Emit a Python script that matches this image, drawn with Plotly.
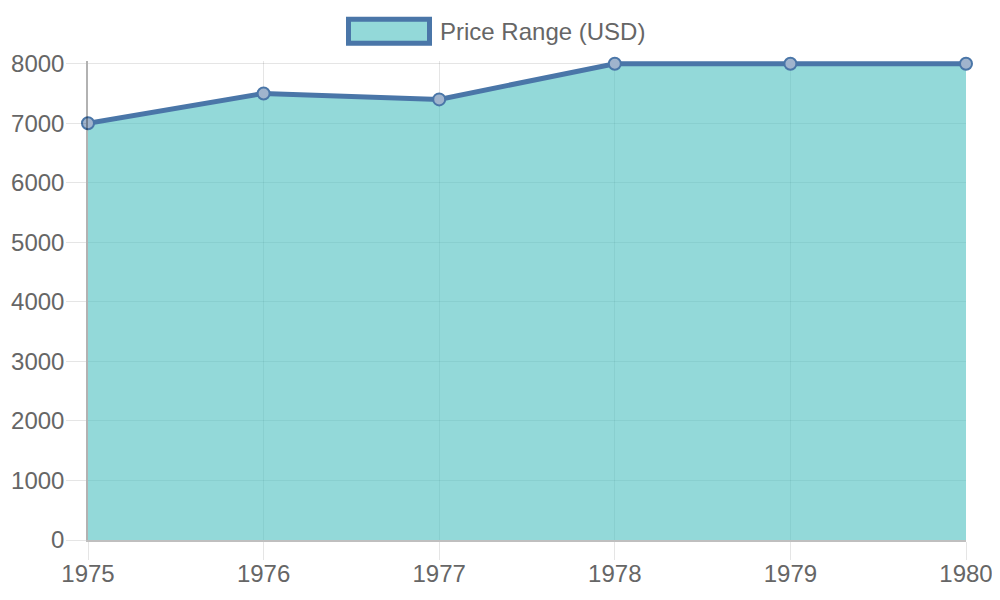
import plotly.graph_objects as go

years = [1975, 1976, 1977, 1978, 1979, 1980]
prices = [7000, 7500, 7400, 8000, 8000, 8000]
series_name = "Price Range (USD)"

LINE = "#4a76a8"
FILL = "rgba(75,192,192,0.6)"
TXT = "#666666"
FONT = "Liberation Sans, Arial, sans-serif"
FS = 24

# page body has an 8px margin; compensate so the plot lands where intended
OFF = 8
PL, PR, PT, PB = 88, 966, 64, 540   # target plot box in screen px
YTOP = 8045                          # small headroom so the top line is not clipped
ppu = (PB - PT) / 8000.0
top_px = PB - YTOP * ppu

fig = go.Figure()
fig.add_trace(go.Scatter(
    x=years, y=prices, name=series_name, mode="lines+markers",
    fill="tozeroy", fillcolor=FILL,
    line=dict(color=LINE, width=5),
    marker=dict(size=12, color="rgba(160,180,205,1)", line=dict(color=LINE, width=2)),
    cliponaxis=False, showlegend=False,
))

def px_x(p):
    return (p - PL) / (PR - PL)

def px_y(p):
    return (PB - p) / (PB - top_px)

fig.update_layout(
    width=1000, height=600,
    margin=dict(l=PL - OFF, r=1000 - (PR - OFF), t=top_px - OFF, b=600 - (PB - OFF)),
    paper_bgcolor="white", plot_bgcolor="white",
    font=dict(family=FONT, size=FS, color=TXT),
    xaxis=dict(range=[1975, 1980], tickvals=years, ticktext=[str(y) for y in years],
               automargin=False,
               showgrid=True, gridcolor="rgba(0,0,0,0.1)", gridwidth=1,
               showline=True, linecolor="rgba(0,0,0,0.25)", linewidth=1.5,
               ticks="outside", ticklen=18, tickcolor="rgba(0,0,0,0.1)",
               ticklabelstandoff=-7,
               zeroline=False, tickfont=dict(size=FS, color=TXT)),
    yaxis=dict(range=[0, YTOP], tickvals=[0, 1000, 2000, 3000, 4000, 5000, 6000, 7000, 8000],
               ticktext=["0", "1000", "2000", "3000", "4000", "5000", "6000", "7000", "8000"],
               automargin=False,
               showgrid=True, gridcolor="rgba(0,0,0,0.1)", gridwidth=1,
               showline=True, linecolor="rgba(0,0,0,0.3)", linewidth=1.5,
               ticks="outside", ticklen=20, tickcolor="rgba(0,0,0,0.1)",
               ticklabelstandoff=-3,
               zeroline=False, tickfont=dict(size=FS, color=TXT)),
    shapes=[dict(type="rect", xref="paper", yref="paper",
                 x0=px_x(348.5), x1=px_x(429.5),
                 y0=px_y(43.5), y1=px_y(19.5),
                 fillcolor="rgba(147,217,217,1)", line=dict(color=LINE, width=5))],
    annotations=[dict(text=series_name, xref="paper", yref="paper",
                      x=px_x(438), y=px_y(32),
                      xanchor="left", yanchor="middle", showarrow=False,
                      font=dict(size=FS, color=TXT, family=FONT))],
)

fig.write_html("out.html")
